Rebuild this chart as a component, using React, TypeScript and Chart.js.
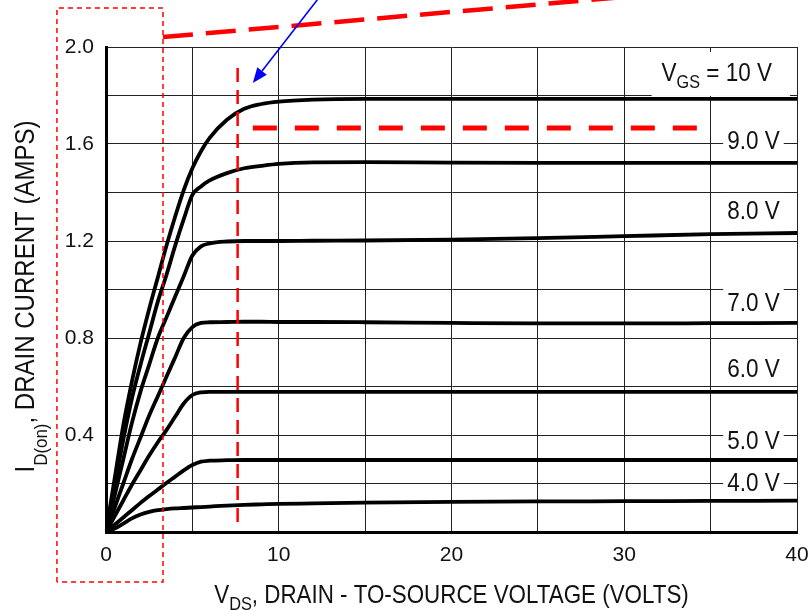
import { useEffect, useRef } from 'react';
import { Chart, registerables } from 'chart.js';

Chart.register(...registerables);

// ---- data ----
const VDS = [0, 0.5, 1, 1.5, 2, 2.5, 3, 3.5, 4, 4.5, 5, 5.5, 6, 7, 8, 9, 10, 12, 15, 20, 25, 30, 35, 40];
const ID_10V = [0, 0.22, 0.44, 0.62, 0.78, 0.92, 1.05, 1.18, 1.3, 1.41, 1.5, 1.57, 1.625, 1.7, 1.745, 1.765, 1.775, 1.783, 1.786, 1.786, 1.786, 1.786, 1.786, 1.786];
const ID_9V = [0, 0.19, 0.38, 0.55, 0.69, 0.82, 0.95, 1.06, 1.18, 1.29, 1.39, 1.425, 1.45, 1.48, 1.5, 1.51, 1.518, 1.524, 1.525, 1.523, 1.522, 1.522, 1.522, 1.522];
const ID_8V = [0, 0.15, 0.3, 0.45, 0.58, 0.69, 0.8, 0.885, 0.97, 1.055, 1.14, 1.178, 1.19, 1.198, 1.2, 1.2, 1.2, 1.201, 1.202, 1.206, 1.212, 1.22, 1.228, 1.233];
const ID_7V = [0, 0.1, 0.2, 0.3, 0.39, 0.48, 0.56, 0.64, 0.72, 0.8, 0.845, 0.862, 0.865, 0.866, 0.867, 0.867, 0.866, 0.866, 0.865, 0.862, 0.86, 0.86, 0.861, 0.862];
const ID_6V = [0, 0.065, 0.13, 0.195, 0.255, 0.315, 0.37, 0.42, 0.475, 0.53, 0.565, 0.576, 0.578, 0.578, 0.578, 0.578, 0.578, 0.578, 0.578, 0.578, 0.578, 0.578, 0.578, 0.578];
const ID_5V = [0, 0.03, 0.06, 0.09, 0.12, 0.148, 0.175, 0.202, 0.228, 0.254, 0.276, 0.29, 0.294, 0.296, 0.297, 0.297, 0.297, 0.297, 0.297, 0.297, 0.297, 0.297, 0.297, 0.297];
const ID_4V = [0, 0.014, 0.035, 0.056, 0.072, 0.083, 0.09, 0.094, 0.097, 0.099, 0.101, 0.103, 0.105, 0.109, 0.112, 0.114, 0.116, 0.118, 0.121, 0.124, 0.126, 0.127, 0.128, 0.129];
const SERIES = [ID_10V, ID_9V, ID_8V, ID_7V, ID_6V, ID_5V, ID_4V];

// curve labels (segments: [text, isSubscript])
const CURVE_LABELS: [string, boolean][][] = [
  [['V', false], ['GS', true], [' = 10 V', false]],
  [['9.0 V', false]],
  [['8.0 V', false]],
  [['7.0 V', false]],
  [['6.0 V', false]],
  [['5.0 V', false]],
  [['4.0 V', false]],
];
const LABEL_X_RIGHT = [38.55, 39, 39, 39, 39, 39, 39];
const LABEL_Y = [1.897, 1.616, 1.328, 0.948, 0.676, 0.379, 0.206];

const X_TITLE: [string, boolean][] = [['V', false], ['DS', true], [', DRAIN - TO-SOURCE VOLTAGE (VOLTS)', false]];
const Y_TITLE: [string, boolean][] = [['I', false], ['D(on)', true], [', DRAIN CURRENT (AMPS)', false]];

// overlay annotations (data units)
const RECT_X = [-2.84, 3.3];
const RECT_Y = [-0.206, 2.161];
const DIAG_X = [3.3, 40.6];
const DIAG_Y = [2.041, 2.272];
const VLINE_X = [7.62, 7.62];
const VLINE_Y = [0.041, 1.913];
const HLINE_X = [8.5, 34.26];
const HLINE_Y = [1.666, 1.666];
const ARROW_X = [12.4, 8.5];
const ARROW_Y = [2.21, 1.852];

const FONT = "'Liberation Sans', Arial, Helvetica, sans-serif";

function segWidth(ctx: CanvasRenderingContext2D, segs: [string, boolean][], mainSize: number, subSize: number) {
  let w = 0;
  segs.forEach(([t, sub]) => {
    ctx.font = `${sub ? subSize : mainSize}px ${FONT}`;
    w += ctx.measureText(t).width;
  });
  return w;
}

// draws text segments with a horizontal condensing factor sx
function drawSegs(
  ctx: CanvasRenderingContext2D,
  segs: [string, boolean][],
  x: number,
  y: number,
  align: 'left' | 'center' | 'right',
  mainSize: number,
  subSize: number,
  subShift: number,
  sx: number
) {
  const total = segWidth(ctx, segs, mainSize, subSize);
  let cx = align === 'left' ? 0 : align === 'center' ? -total / 2 : -total;
  ctx.save();
  ctx.translate(x, y);
  ctx.scale(sx, 1);
  ctx.textAlign = 'left';
  ctx.textBaseline = 'alphabetic';
  segs.forEach(([t, sub]) => {
    ctx.font = `${sub ? subSize : mainSize}px ${FONT}`;
    ctx.fillText(t, cx, sub ? subShift : 0);
    cx += ctx.measureText(t).width;
  });
  ctx.restore();
  return total * sx;
}

function dashedLine(ctx: CanvasRenderingContext2D, pts: number[][], color: string, width: number, dash: number[]) {
  ctx.save();
  ctx.strokeStyle = color;
  ctx.lineWidth = width;
  ctx.setLineDash(dash);
  ctx.beginPath();
  ctx.moveTo(pts[0][0], pts[0][1]);
  for (let i = 1; i < pts.length; i++) ctx.lineTo(pts[i][0], pts[i][1]);
  ctx.stroke();
  ctx.restore();
}

const LABEL_SX = 0.9;

const overlayPlugin = {
  id: 'overlay',
  beforeDatasetsDraw(chart: any) {
    const { ctx, scales } = chart;
    const xs = scales.x;
    const ys = scales.y;
    ctx.save();
    CURVE_LABELS.forEach((segs, i) => {
      const right = xs.getPixelForValue(LABEL_X_RIGHT[i]);
      const cy = ys.getPixelForValue(LABEL_Y[i]);
      const w = segWidth(ctx, segs, 25, 18) * LABEL_SX;
      ctx.fillStyle = '#ffffff';
      if (i === 0) ctx.fillRect(right - w - 10, cy - 20, w + 28, 44);
      else ctx.fillRect(right - w - 4, cy - 17, w + 8, 31);
      ctx.fillStyle = '#111111';
      drawSegs(ctx, segs, right, cy + 9, 'right', 25, 18, 7, LABEL_SX);
    });
    ctx.restore();
  },
  afterDraw(chart: any) {
    const { ctx, scales, chartArea } = chart;
    const xs = scales.x;
    const ys = scales.y;
    const P = (x: number, y: number) => [xs.getPixelForValue(x), ys.getPixelForValue(y)];

    // axis titles
    ctx.save();
    ctx.fillStyle = '#111111';
    drawSegs(ctx, X_TITLE, (chartArea.left + chartArea.right) / 2, 603, 'center', 26, 19, 7, 0.86);
    ctx.translate(34, (chartArea.top + chartArea.bottom) / 2 + 7);
    ctx.rotate(-Math.PI / 2);
    drawSegs(ctx, Y_TITLE, 0, 0, 'center', 27, 19, 13, 0.89);
    ctx.restore();

    // red dotted rectangle
    const r0 = P(RECT_X[0], RECT_Y[0]);
    const r1 = P(RECT_X[1], RECT_Y[1]);
    dashedLine(ctx, [[r0[0], r0[1]], [r0[0], r1[1]], [r1[0], r1[1]], [r1[0], r0[1]], [r0[0], r0[1]]], '#ff0000', 1.5, [5, 4]);
    // thick diagonal dashed line
    dashedLine(ctx, [P(DIAG_X[0], DIAG_Y[0]), P(DIAG_X[1], DIAG_Y[1])], '#ff0000', 4.5, [30, 13]);
    // vertical dashed line
    dashedLine(ctx, [P(VLINE_X[0], VLINE_Y[0]), P(VLINE_X[1], VLINE_Y[1])], '#ff0000', 2.5, [14, 8]);
    // horizontal dashed line
    dashedLine(ctx, [P(HLINE_X[0], HLINE_Y[0]), P(HLINE_X[1], HLINE_Y[1])], '#ff0000', 5, [24, 18]);

    // blue arrow
    const a0 = P(ARROW_X[0], ARROW_Y[0]);
    const a1 = P(ARROW_X[1], ARROW_Y[1]);
    const ang = Math.atan2(a1[1] - a0[1], a1[0] - a0[0]);
    const hl = 15;
    const hw = 6;
    const bx = a1[0] - hl * Math.cos(ang);
    const by = a1[1] - hl * Math.sin(ang);
    ctx.save();
    ctx.strokeStyle = '#0000ff';
    ctx.fillStyle = '#0000ff';
    ctx.lineWidth = 1.6;
    ctx.beginPath();
    ctx.moveTo(a0[0], a0[1]);
    ctx.lineTo(bx, by);
    ctx.stroke();
    ctx.beginPath();
    ctx.moveTo(a1[0], a1[1]);
    ctx.lineTo(bx + hw * Math.sin(ang), by - hw * Math.cos(ang));
    ctx.lineTo(bx - hw * Math.sin(ang), by + hw * Math.cos(ang));
    ctx.closePath();
    ctx.fill();
    ctx.restore();
  },
};

export default function App() {
  const ref = useRef<HTMLCanvasElement | null>(null);
  useEffect(() => {
    if (!ref.current) return;
    const datasets = SERIES.map((vals) => ({
      data: VDS.map((x, i) => ({ x, y: vals[i] })),
      borderColor: '#000000',
      borderWidth: 3.8,
      pointRadius: 0,
      fill: false,
      cubicInterpolationMode: 'monotone' as const,
    }));
    const chart = new Chart(ref.current, {
      type: 'line',
      data: { datasets },
      plugins: [overlayPlugin],
      options: {
        animation: false,
        responsive: false,
        events: [],
        layout: { padding: { top: 47, right: 12, left: 0, bottom: 0 } },
        plugins: { legend: { display: false }, tooltip: { enabled: false }, title: { display: false } },
        scales: {
          x: {
            type: 'linear',
            min: 0,
            max: 40,
            afterFit: (s: any) => {
              s.height = 78;
              s.paddingRight = 0;
              s.paddingLeft = 0;
            },
            ticks: {
              stepSize: 5,
              autoSkip: false,
              maxRotation: 0,
              padding: 11,
              color: '#111111',
              font: { family: FONT, size: 21 },
              callback: (v: any) => (Number(v) % 10 === 0 ? String(v) : ''),
            },
            grid: { color: '#222222', lineWidth: 1, drawTicks: false },
            border: { display: true, color: '#000000', width: 3 },
          },
          y: {
            type: 'linear',
            min: 0,
            max: 2,
            afterFit: (s: any) => {
              s.width = 106;
              s.paddingTop = 0;
              s.paddingBottom = 0;
            },
            ticks: {
              stepSize: 0.2,
              autoSkip: false,
              padding: 12,
              color: '#111111',
              font: { family: FONT, size: 21 },
              callback: (v: any) => {
                const n = Math.round(Number(v) * 10);
                return n > 0 && n % 4 === 0 ? (n / 10).toFixed(1) : '';
              },
            },
            grid: { color: '#222222', lineWidth: 1, drawTicks: false },
            border: { display: true, color: '#000000', width: 3 },
          },
        },
      },
    });
    return () => chart.destroy();
  }, []);
  return (
    <div style={{ position: 'absolute', left: 0, top: 0, width: 809, height: 610, background: '#ffffff' }}>
      <canvas ref={ref} width={809} height={610} style={{ display: 'block' }} />
    </div>
  );
}
